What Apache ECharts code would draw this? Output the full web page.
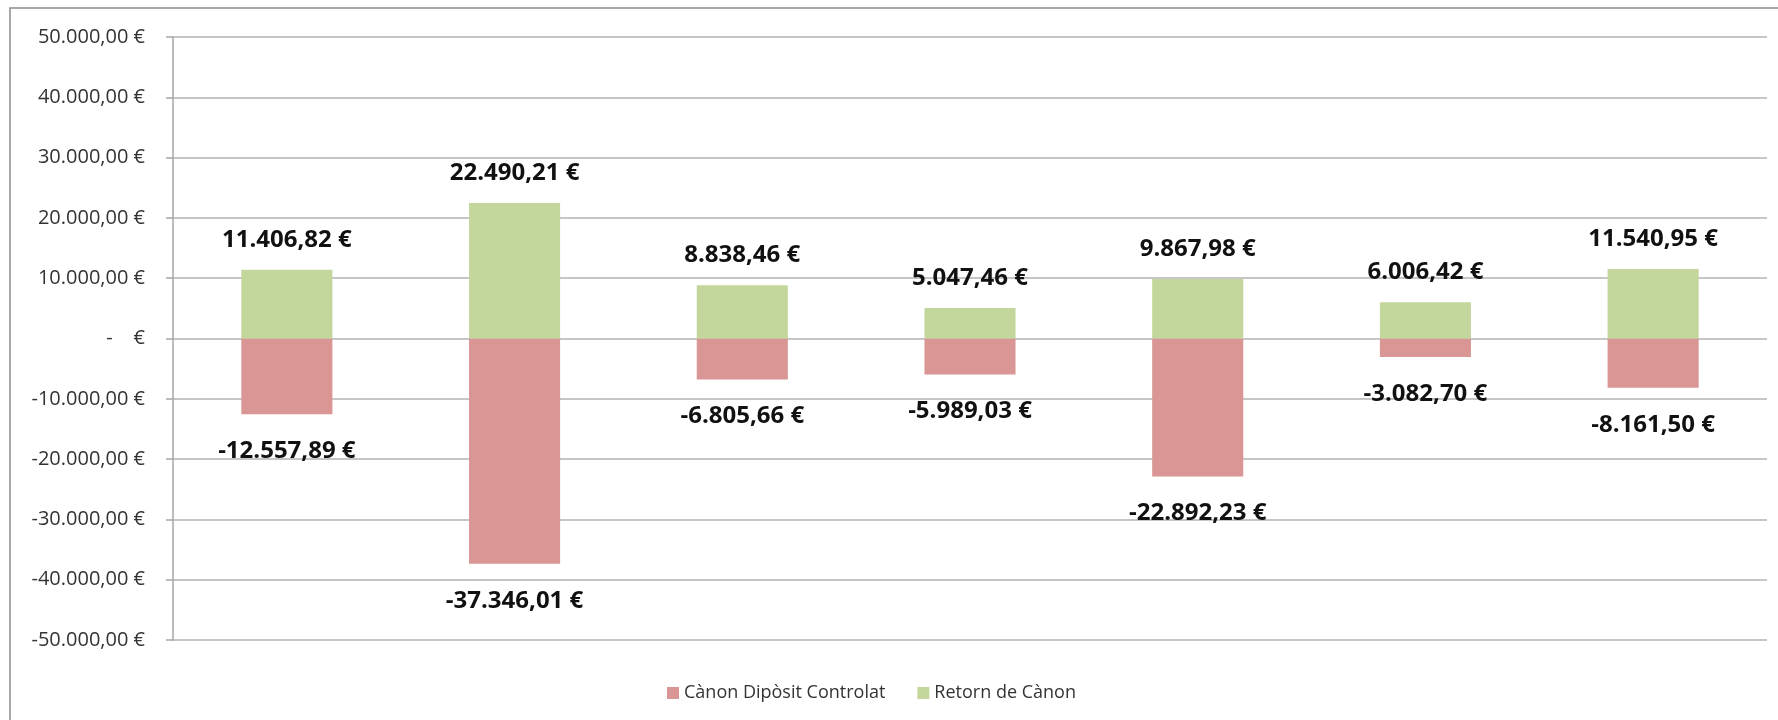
<!DOCTYPE html>
<html>
<head>
<meta charset="utf-8">
<title>Cànon</title>
<script src="https://cdn.jsdelivr.net/npm/echarts@6/dist/echarts.min.js"></script>
<style>
  html, body { margin: 0; padding: 0; background: #fff; }
  #main { width: 1778px; height: 720px; }
</style>
</head>
<body>
<div id="main"></div>
<script>
var categories = ["1", "2", "3", "4", "5", "6", "7"];
var canonDiposit = [-12557.89, -37346.01, -6805.66, -5989.03, -22892.23, -3082.70, -8161.50];
var retornCanon = [11406.82, 22490.21, 8838.46, 5047.46, 9867.98, 6006.42, 11540.95];
var yTicks = { min: -50000, max: 50000, interval: 10000 };

// format like Excel: 11.406,82 €
function euro(v) {
  var neg = v < 0;
  var parts = Math.abs(v).toFixed(2).split(".");
  var ent = parts[0].replace(/\B(?=(\d{3})+(?!\d))/g, ".");
  return (neg ? "-" : "") + ent + "," + parts[1] + " €";
}

var myChart = echarts.init(document.getElementById("main"));
var font = "'Open Sans', 'Noto Sans', sans-serif";

var option = {
  backgroundColor: "#ffffff",
  textStyle: { fontFamily: font },
  animation: false,
  graphic: [
    {
      type: "rect",
      shape: { x: 10, y: 8, width: 2000, height: 2000 },
      style: { fill: "none", stroke: "#8c8c8c", lineWidth: 1.5 },
      silent: true
    }
  ],
  grid: { left: 173, right: 11, top: 37, bottom: 80 },
  legend: {
    left: 662,
    top: 679,
    itemWidth: 12,
    itemHeight: 12,
    itemGap: 32,
    icon: "rect",
    textStyle: { fontSize: 18, color: "#333", fontFamily: font },
    data: ["Cànon Dipòsit Controlat", "Retorn de Cànon"]
  },
  xAxis: {
    type: "category",
    data: categories,
    axisLine: { show: false },
    axisTick: { show: false },
    axisLabel: { show: false }
  },
  yAxis: {
    type: "value",
    min: yTicks.min,
    max: yTicks.max,
    interval: yTicks.interval,
    axisLine: { show: true, lineStyle: { color: "#a6a6a6", width: 1.5 } },
    axisTick: { show: true, length: 7, lineStyle: { color: "#a6a6a6", width: 1.5 } },
    splitLine: { lineStyle: { color: "#b3b3b3", width: 1.5 } },
    axisLabel: {
      fontSize: 20,
      color: "#333",
      margin: 28,
      fontFamily: font,
      formatter: function (v) {
        if (v === 0) return "-    €";
        return euro(v);
      }
    }
  },
  series: [
    {
      name: "Cànon Dipòsit Controlat",
      type: "bar",
      stack: "total",
      barWidth: "40%",
      data: canonDiposit,
      itemStyle: { color: "#d99694" },
      label: {
        show: true,
        position: "bottom",
        distance: 25,
        fontSize: 24,
        fontWeight: "bold",
        color: "#111",
        fontFamily: font,
        formatter: function (p) { return euro(p.value); }
      }
    },
    {
      name: "Retorn de Cànon",
      type: "bar",
      stack: "total",
      barWidth: "40%",
      data: retornCanon,
      itemStyle: { color: "#c3d69b" },
      label: {
        show: true,
        position: "top",
        distance: 18,
        fontSize: 24,
        fontWeight: "bold",
        color: "#111",
        fontFamily: font,
        formatter: function (p) { return euro(p.value); }
      }
    }
  ]
};
myChart.setOption(option);
</script>
</body>
</html>
